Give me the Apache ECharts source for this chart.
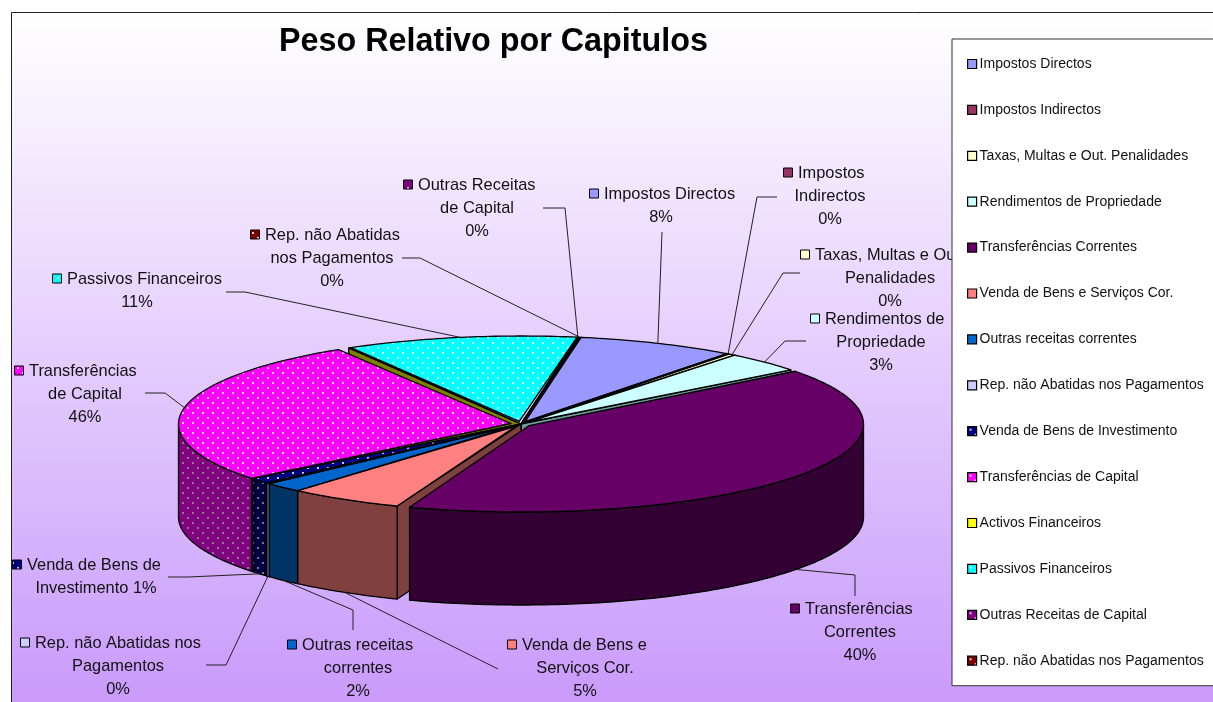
<!DOCTYPE html>
<html>
<head>
<meta charset="utf-8">
<title>Peso Relativo por Capitulos</title>
<style>
  html, body { margin: 0; padding: 0; background: #fff; }
  #chart { width: 1213px; height: 702px; }
</style>
</head>
<body>
<div id="chart"></div>
<script src="https://cdn.jsdelivr.net/npm/echarts@6/dist/echarts.min.js"></script>
<script>
// dados (peso de cada fatia, em %)
const categories = [
  'Impostos Directos', 'Impostos Indirectos', 'Taxas, Multas e Out. Penalidades',
  'Rendimentos de Propriedade', 'Transferências Correntes', 'Venda de Bens e Serviços Cor.',
  'Outras receitas correntes', 'Rep. não Abatidas nos Pagamentos', 'Venda de Bens de Investimento',
  'Transferências de Capital', 'Activos Financeiros', 'Passivos Financeiros',
  'Outras Receitas de Capital', 'Rep. não Abatidas nos Pagamentos '
];
const sliceValues = [7.47, 0.12, 0.33, 3.71, 41.44, 5.42, 1.83, 0.19, 1.0, 27.28, 0.11, 10.89, 0.08, 0.11];
// percentagens tal como aparecem nos rotulos
const labelTexts = [
  ['Impostos Directos', '8%'],
  ['Impostos', 'Indirectos', '0%'],
  ['Taxas, Multas e Out.', 'Penalidades', '0%'],
  ['Rendimentos de', 'Propriedade', '3%'],
  ['Transferências', 'Correntes', '40%'],
  ['Venda de Bens e', 'Serviços Cor.', '5%'],
  ['Outras receitas', 'correntes', '2%'],
  ['Rep. não Abatidas nos', 'Pagamentos', '0%'],
  ['Venda de Bens de', 'Investimento 1%'],
  ['Transferências', 'de Capital', '46%'],
  null,
  ['Passivos Financeiros', '11%'],
  ['Outras Receitas', 'de Capital', '0%'],
  ['Rep. não Abatidas', 'nos Pagamentos', '0%']
];

// estilo
const topColors = ['#9999ff', '#993366', '#ffffcc', '#ccffff', '#660066', '#ff8080', '#0066cc',
  '#ccccff', '#000080', '#ff00ff', '#ffff00', '#00ffff', '#800080', '#800000'];
const sideColors = ['#4d4d80', '#4d1a33', '#808066', '#6f9d9d', '#330033', '#804040', '#003366',
  '#666680', '#000040', '#800080', '#808000', '#008080', '#400040', '#400000'];
const dotted = [8, 9, 11, 12, 13];

// geometria da tarte
const pie = { cx: 521, cy: 424, rx: 342.5, ry: 88, depth: 93, hub: 0.03 };
const FONT = '"Liberation Sans", Arial, sans-serif';
const LABEL_FONT = '16.4px ' + FONT;
const LINE_H = 23;
// folga (graus) no inicio/fim de algumas fatias, deixa ver a face de corte da vizinha
const sliceInset = { 4: [1.2, 2.2], 9: [0.3, 2], 12: [0.35, 0], 13: [0.1, 0] };
// posicao dos rotulos: x do texto, centro das linhas, y da 1a linha, cotovelos da linha guia
const labelLayout = [
  { x: 604, cx: 661, y: 193, elbow: [[662, 232]] },
  { x: 798, cx: 830, y: 172, elbow: [[757, 197], [777, 197]] },
  { x: 815, cx: 890, y: 254, elbow: [[783, 273], [800, 273]] },
  { x: 825, cx: 881, y: 318, elbow: [[785, 341], [806, 341]] },
  { x: 805, cx: 860, y: 608, elbow: [[855, 575], [855, 596]] },
  { x: 522, cx: 585, y: 644, elbow: [[498, 669]] },
  { x: 302, cx: 358, y: 644, elbow: [[353, 610], [353, 630]] },
  { x: 35, cx: 118, y: 642, elbow: [[226, 665], [206, 665]] },
  { x: 27, cx: 96, y: 564, elbow: [[188, 577], [168, 577]] },
  { x: 29, cx: 85, y: 370, elbow: [[165, 393], [145, 393]] },
  null,
  { x: 67, cx: 137, y: 278, elbow: [[245, 292], [226, 292]] },
  { x: 418, cx: 477, y: 184, elbow: [[565, 208], [543, 208]] },
  { x: 265, cx: 332, y: 234, elbow: [[420, 258], [402, 258]] }
];

const START_ANGLE = 10.1;
const total = sliceValues.reduce((a, b) => a + b, 0);
const sliceAngles = [];
let acc = START_ANGLE;
sliceValues.forEach(v => {
  sliceAngles.push([acc, acc + v / total * 360]);
  acc += v / total * 360;
});

// padrao de pontos das fatias "dotted"
function dotPattern(bg, dot) {
  const c = document.createElement('canvas');
  c.width = 10;
  c.height = 10;
  const ctx = c.getContext('2d');
  ctx.fillStyle = bg;
  ctx.fillRect(0, 0, 10, 10);
  ctx.fillStyle = dot;
  [[3, 3], [8, 8]].forEach(p => {
    ctx.beginPath();
    ctx.arc(p[0], p[1], 1.05, 0, Math.PI * 2);
    ctx.fill();
  });
  return { image: c, repeat: 'repeat' };
}

function fillOf(i, side) {
  if (dotted.indexOf(i) < 0) return side ? sideColors[i] : topColors[i];
  return side ? dotPattern(sideColors[i], '#999') : dotPattern(topColors[i], '#fff');
}

function rim(deg, drop) {
  const r = deg * Math.PI / 180;
  return [pie.cx + pie.rx * Math.sin(r), pie.cy - pie.ry * Math.cos(r) + (drop || 0)];
}

function arc(a0, a1, drop) {
  const n = Math.max(2, Math.ceil(Math.abs(a1 - a0)));
  const pts = [];
  for (let k = 0; k <= n; k++) pts.push(rim(a0 + (a1 - a0) * k / n, drop));
  return pts;
}

const lineStyle = { stroke: '#000', lineWidth: 1.3, lineJoin: 'round' };

function polygon(points, fill, z2) {
  return { type: 'polygon', z2: z2, shape: { points: points }, style: Object.assign({ fill: fill }, lineStyle) };
}

// face de corte: as mais a frente (y maior no aro) pintam-se por cima
function cutFace(deg, fill) {
  const apex = [pie.cx, pie.cy];
  const apexLow = [pie.cx, pie.cy + pie.depth];
  return polygon([apex, rim(deg), rim(deg, pie.depth), apexLow], fill, 1 + rim(deg)[1] / 1000);
}

function renderSlice(i) {
  return function () {
    const a = sliceAngles[i];
    const inset = sliceInset[i] || [0, 0];
    const a0 = a[0] + inset[0];
    const a1 = a[1] - inset[1];
    const mid = (a[0] + a[1]) / 2;
    const side = fillOf(i, true);
    const children = [];

    if (a[0] % 360 > 180) children.push(cutFace(a[0], side));
    if (a[1] % 360 < 180) children.push(cutFace(a[1], side));

    // parede exterior, so a parte da frente (90 a 270 graus)
    const w0 = Math.max(a0, 90);
    const w1 = Math.min(a1, 270);
    if (w1 > w0) {
      children.push(polygon(arc(w0, w1, 0).concat(arc(w1, w0, pie.depth)), side, 3));
    }

    // tampo, com o vertice um pouco afastado do centro
    const tip = rim(mid);
    tip[0] = pie.cx + (tip[0] - pie.cx) * pie.hub;
    tip[1] = pie.cy + (tip[1] - pie.cy) * pie.hub;
    children.push(polygon([tip].concat(arc(a0, a1, 0)), fillOf(i, false), 4));

    // rotulo e linha guia
    const lay = labelLayout[i];
    if (lay) {
      const front = mid % 360 > 90 && mid % 360 < 270;
      const anchor = rim(mid, front ? pie.depth : 0);
      children.push({
        type: 'polyline', z2: 5,
        shape: { points: [anchor].concat(lay.elbow) },
        style: { stroke: '#222', lineWidth: 1, fill: null }
      });
      children.push({
        type: 'rect', z2: 6,
        shape: { x: lay.x - 14.5, y: lay.y - 4, width: 9, height: 9 },
        style: { fill: fillOf(i, false), stroke: '#000', lineWidth: 1 }
      });
      labelTexts[i].forEach((line, k) => {
        children.push({
          type: 'text', z2: 6,
          style: {
            text: line,
            x: k === 0 ? lay.x : lay.cx,
            y: lay.y + k * LINE_H + 1.5,
            textAlign: k === 0 ? 'left' : 'center',
            textVerticalAlign: 'middle',
            font: LABEL_FONT,
            fill: '#111'
          }
        });
      });
    }
    return { type: 'group', children: children };
  };
}

const chart = echarts.init(document.getElementById('chart'), null, { renderer: 'canvas' });
chart.setOption({
  animation: false,
  title: {
    text: 'Peso Relativo por Capitulos',
    left: 274,
    top: 21,
    textStyle: { fontFamily: FONT, fontSize: 32.3, fontWeight: 'bold', color: '#000' }
  },
  legend: {
    orient: 'vertical',
    left: 952,
    top: 39,
    padding: [18, 300, 18, 15],
    backgroundColor: '#fff',
    borderColor: '#333',
    borderWidth: 1,
    itemWidth: 9,
    itemHeight: 9,
    itemGap: 31.9,
    selectedMode: false,
    textStyle: { fontFamily: FONT, fontSize: 14, color: '#111', padding: [0, 0, 0, -2] },
    data: categories.map((name, i) => ({
      name: name,
      icon: 'rect',
      itemStyle: { color: fillOf(i, false), borderColor: '#000', borderWidth: 1.2 }
    }))
  },
  graphic: [{
    type: 'rect',
    silent: true,
    z: -1,
    shape: { x: 11.5, y: 12.5, width: 1210, height: 700 },
    style: {
      fill: new echarts.graphic.LinearGradient(0, 0, 0, 1, [
        { offset: 0, color: '#ffffff' },
        { offset: 1, color: '#c999fb' }
      ]),
      stroke: '#222',
      lineWidth: 1
    }
  }],
  series: categories.map((name, i) => ({
    type: 'custom',
    name: name,
    coordinateSystem: 'none',
    silent: true,
    clip: false,
    itemStyle: { color: topColors[i] },
    data: [sliceValues[i]],
    renderItem: renderSlice(i)
  }))
});
</script>
</body>
</html>
